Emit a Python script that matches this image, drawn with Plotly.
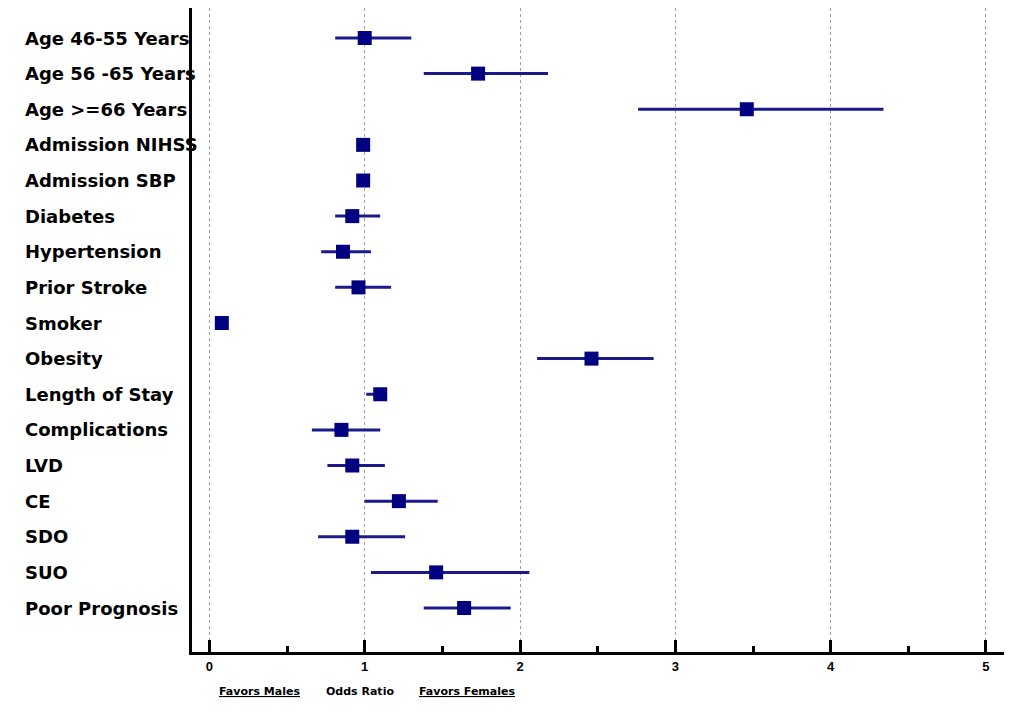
import plotly.graph_objects as go

# Forest plot data (odds ratios with 95% CI)
labels = ['Age 46-55 Years', 'Age 56 -65 Years', 'Age >=66 Years', 'Admission NIHSS',
          'Admission SBP', 'Diabetes', 'Hypertension', 'Prior Stroke', 'Smoker', 'Obesity',
          'Length of Stay', 'Complications', 'LVD', 'CE', 'SDO', 'SUO', 'Poor Prognosis']
odds_ratio = [1.00, 1.73, 3.46, 0.99, 0.99, 0.92, 0.86, 0.96, 0.08, 2.46,
              1.10, 0.85, 0.92, 1.22, 0.92, 1.46, 1.64]
ci_low = [0.81, 1.38, 2.76, 0.99, 0.99, 0.81, 0.72, 0.81, 0.08, 2.11,
          1.01, 0.66, 0.76, 1.00, 0.70, 1.04, 1.38]
ci_high = [1.30, 2.18, 4.34, 0.99, 0.99, 1.10, 1.04, 1.17, 0.08, 2.86,
           1.10, 1.10, 1.13, 1.47, 1.26, 2.06, 1.94]

rows = list(range(len(labels)))
navy = '#000080'

fig = go.Figure()
fig.add_trace(go.Scatter(
    x=odds_ratio, y=rows, mode='markers',
    marker=dict(symbol='square', size=14, color=navy),
    error_x=dict(type='data', symmetric=False,
                 array=[h - o for h, o in zip(ci_high, odds_ratio)],
                 arrayminus=[o - l for o, l in zip(odds_ratio, ci_low)],
                 color='#1a1a8a', thickness=3, width=0),
    showlegend=False,
))

# row labels, left aligned
for lab, r in zip(labels, rows):
    fig.add_annotation(x=-0.208, xref='paper', y=r, yref='y', text='<b>%s</b>' % lab,
                       showarrow=False, xanchor='left', yanchor='middle',
                       font=dict(family='DejaVu Sans', size=18, color='black'))

# bottom captions
for txt, xv in [('<u><b>Favors Males</b></u>', 0.32), ('<b>Odds Ratio</b>', 0.97),
                ('<u><b>Favors Females</b></u>', 1.66)]:
    fig.add_annotation(x=xv, xref='x', y=-0.061, yref='paper', text=txt, showarrow=False,
                       xanchor='center', yanchor='middle',
                       font=dict(family='DejaVu Sans', size=11, color='black'))

fig.update_xaxes(range=[-0.112, 5.116], tickvals=[0, 1, 2, 3, 4, 5],
                 ticks='inside', ticklen=12, tickwidth=3, tickcolor='black',
                 minor=dict(ticks='inside', ticklen=6, tickwidth=3, tickcolor='black',
                            dtick=0.5, showgrid=False),
                 showline=True, linewidth=3, linecolor='black',
                 showgrid=True, gridcolor='#a0a0a0', gridwidth=1, griddash='dot',
                 zeroline=False,
                 tickfont=dict(family='Liberation Sans', size=13, color='black', weight='bold'))
fig.update_yaxes(range=[len(labels) - 1 + 1.235, -0.842], showticklabels=False,
                 showline=True, linewidth=3, linecolor='black',
                 showgrid=False, zeroline=False, ticks='')

# page adds a body margin, so the figure is sized to fit inside it
fig.update_layout(width=1005, height=704, margin=dict(l=184, r=9, t=0, b=60),
                  plot_bgcolor='white', paper_bgcolor='white')

fig.write_html("out.html")
